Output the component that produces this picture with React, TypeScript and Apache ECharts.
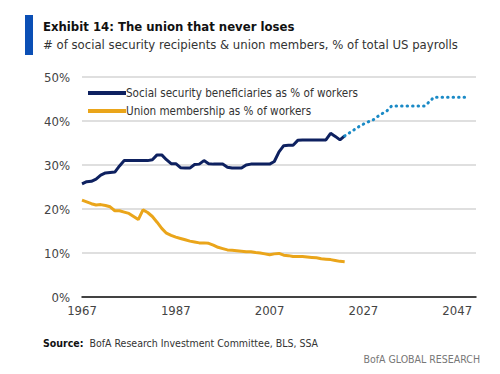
import React, { useEffect, useRef } from "react";
import * as echarts from "echarts";

const histYears: number[] = [];
for (let y = 1967; y <= 2023; y++) histYears.push(y);

const socialSecurity = [
  25.7, 26.2, 26.3, 26.8, 27.7, 28.2, 28.3, 28.4, 29.8, 31.0,
  31.0, 31.0, 31.0, 31.0, 31.0, 31.2, 32.3, 32.3, 31.2, 30.3,
  30.3, 29.4, 29.3, 29.3, 30.1, 30.2, 31.0, 30.3, 30.2, 30.2,
  30.2, 29.5, 29.3, 29.3, 29.3, 30.0, 30.2, 30.2, 30.2, 30.2,
  30.2, 30.8, 33.0, 34.4, 34.5, 34.5, 35.6, 35.7, 35.7, 35.7,
  35.7, 35.7, 35.7, 37.2, 36.5, 35.7, 36.6,
];

const unionMembership = [
  22.0, 21.6, 21.2, 20.9, 21.0, 20.8, 20.5, 19.6, 19.6, 19.3,
  19.0, 18.3, 17.6, 19.8, 19.2, 18.3, 17.0, 15.6, 14.5, 14.0,
  13.6, 13.3, 13.0, 12.7, 12.5, 12.3, 12.3, 12.2, 11.8, 11.3,
  11.0, 10.7, 10.6, 10.5, 10.4, 10.3, 10.3, 10.1, 10.0, 9.8,
  9.6, 9.8, 9.9, 9.5, 9.4, 9.2, 9.2, 9.2, 9.1, 9.0,
  8.9, 8.7, 8.6, 8.5, 8.3, 8.1, 8.0,
];

const projYears = [
  2023, 2024, 2025, 2026, 2027, 2028, 2029, 2030, 2031, 2032, 2033, 2034,
  2035, 2036, 2037, 2038, 2039, 2040, 2041, 2042, 2043, 2044, 2045, 2046,
  2047, 2048, 2049,
];
const projection = [
  36.6, 37.3, 38.0, 38.7, 39.3, 39.8, 40.2, 41.0, 41.7, 42.3, 43.4, 43.4,
  43.4, 43.4, 43.4, 43.4, 43.4, 43.4, 44.3, 45.4, 45.4, 45.4, 45.4, 45.4,
  45.4, 45.4, 45.4,
];

const yTicks = [0, 10, 20, 30, 40, 50];

const FONT = "'Liberation Sans Narrow', 'DejaVu Sans Condensed', 'Open Sans', sans-serif";

export default function App() {
  const ref = useRef<HTMLDivElement>(null);
  useEffect(() => {
    if (!ref.current) return;
    const chart = echarts.init(ref.current, undefined, { renderer: "svg" });
    const pair = (xs: number[], ys: number[]) => xs.map((x, i) => [x, ys[i]]);
    chart.setOption({
      animation: false,
      backgroundColor: "#ffffff",
      grid: { left: 82, right: 24, top: 77, bottom: 77 },
      legend: {
        orient: "vertical",
        left: 83,
        top: 82,
        itemWidth: 38,
        itemHeight: 4,
        itemGap: 6,
        icon: "rect",
        data: [
          "Social security beneficiaries as % of workers",
          "Union membership as % of workers",
        ],
        textStyle: { color: "#333", fontSize: 11.6, fontFamily: FONT, padding: [0, 0, 0, -5] },
      },
      xAxis: {
        type: "value",
        min: 1967,
        max: 2051,
        interval: 20,
        axisLine: { show: true, lineStyle: { color: "#111", width: 1.5 } },
        axisTick: { show: false },
        splitLine: { show: false },
        axisLabel: {
          showMaxLabel: false,
          color: "#444",
          fontSize: 13,
          fontFamily: FONT,
          margin: 7,
          formatter: (v: number) => String(v),
        },
      },
      yAxis: {
        type: "value",
        min: yTicks[0],
        max: yTicks[yTicks.length - 1],
        interval: 10,
        axisLine: { show: false },
        axisTick: { show: false },
        splitLine: { lineStyle: { color: "#d4d4d4", width: 1.5 } },
        axisLabel: {
          color: "#444",
          fontSize: 13,
          fontFamily: FONT,
          margin: 12,
          formatter: (v: number) => v + "%",
        },
      },
      series: [
        {
          name: "Social security beneficiaries as % of workers",
          type: "line",
          data: pair(histYears, socialSecurity),
          symbol: "none",
          z: 3,
          lineStyle: { color: "#0e2160", width: 3 },
          itemStyle: { color: "#0e2160" },
        },
        {
          name: "Union membership as % of workers",
          type: "line",
          data: pair(histYears, unionMembership),
          symbol: "none",
          lineStyle: { color: "#eaa51a", width: 3 },
          itemStyle: { color: "#eaa51a" },
        },
        {
          name: "Projection",
          type: "line",
          data: pair(projYears, projection),
          symbol: "none",
          lineStyle: { color: "#1a8ac6", width: 3, type: [0.5, 5], cap: "round" },
          itemStyle: { color: "#1a8ac6" },
        },
      ],
      graphic: [
        { type: "rect", left: 25, top: 15, shape: { width: 8, height: 40 }, style: { fill: "#0b4fb5" } },
        {
          type: "text",
          left: 43,
          top: 20,
          style: { text: "Exhibit 14: The union that never loses", fontSize: 13, fontWeight: "bold", fill: "#111", fontFamily: FONT },
        },
        {
          type: "text",
          left: 43,
          top: 38,
          style: { text: "# of social security recipients & union members, % of total US payrolls", fontSize: 13, fill: "#333", fontFamily: FONT },
        },
        {
          type: "text",
          left: 43,
          top: 337,
          style: {
            text: "{b|Source:}  BofA Research Investment Committee, BLS, SSA",
            rich: {
              b: { fontWeight: "bold", fontSize: 10.5, fill: "#111", fontFamily: FONT },
            },
            fontSize: 10.5,
            fill: "#333",
            fontFamily: FONT,
          },
        },
        {
          type: "text",
          right: 20,
          top: 353,
          style: { text: "BofA GLOBAL RESEARCH", fontSize: 10.5, fill: "#777", fontFamily: FONT },
        },
      ],
    });
    return () => chart.dispose();
  }, []);
  return <div ref={ref} style={{ width: 500, height: 374, position: "absolute", left: 0, top: 0 }} />;
}
